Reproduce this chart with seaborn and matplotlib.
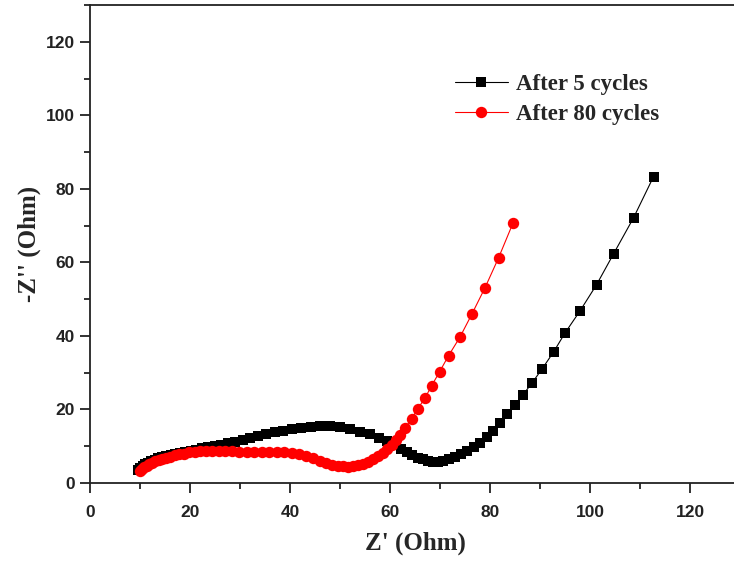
import numpy as np
import pandas as pd
import matplotlib
matplotlib.use('Agg')
import matplotlib.pyplot as plt
import seaborn as sns
from matplotlib.ticker import MultipleLocator

# Данные: импеданс после 5 циклов
z_re_5 = [9.5, 10.0, 10.5, 11.0, 11.6, 12.2, 12.9, 13.6, 14.4, 15.2, 16.1, 17.0,
          18.0, 19.0, 20.1, 21.2, 22.4, 23.6, 24.9, 26.2, 27.6, 29.0, 30.5, 32.0,
          33.6, 35.2, 36.9, 38.6, 40.4, 42.2, 44.1, 46.0, 48.0, 50.0, 52.0, 54.0,
          55.9, 57.7, 59.3, 60.8, 62.1, 63.3, 64.4, 65.5, 66.5, 67.5, 68.5, 69.5,
          70.6, 71.7, 72.9, 74.1, 75.4, 76.7, 78.0, 79.3, 80.6, 82.0, 83.4, 85.0,
          86.6, 88.4, 90.4, 92.7, 95.0, 98.0, 101.3, 104.7, 108.7, 112.7]
z_im_5 = [3.5, 4.2, 4.7, 5.1, 5.5, 5.9, 6.3, 6.7, 7.0, 7.3, 7.6, 7.9,
          8.2, 8.5, 8.8, 9.1, 9.4, 9.7, 10.0, 10.4, 10.8, 11.2, 11.7, 12.2,
          12.8, 13.3, 13.8, 14.2, 14.6, 15.0, 15.3, 15.4, 15.4, 15.2, 14.8, 14.0,
          13.2, 12.3, 11.3, 10.2, 9.2, 8.3, 7.5, 6.9, 6.4, 6.0, 5.8, 5.8,
          6.0, 6.5, 7.1, 7.8, 8.7, 9.7, 10.9, 12.4, 14.2, 16.3, 18.7, 21.1,
          24.0, 27.2, 31.0, 35.6, 40.8, 46.8, 53.9, 62.3, 72.1, 83.3]

# Данные: импеданс после 80 циклов
z_re_80 = [10.0, 10.4, 10.8, 11.3, 11.8, 12.4, 13.0, 13.7, 14.4, 15.2, 16.0, 16.9,
           17.8, 18.8, 19.8, 20.9, 22.0, 23.2, 24.4, 25.7, 27.0, 28.4, 29.8, 31.3,
           32.8, 34.3, 35.8, 37.3, 38.8, 40.3, 41.8, 43.2, 44.6, 45.9, 47.2, 48.4,
           49.5, 50.6, 51.6, 52.6, 53.6, 54.6, 55.6, 56.6, 57.6, 58.5, 59.4, 60.3,
           61.2, 62.0, 63.0, 64.3, 65.5, 67.0, 68.3, 69.9, 71.7, 74.0, 76.4, 79.0,
           81.7, 84.6]
z_im_80 = [3.3, 3.8, 4.3, 4.7, 5.1, 5.5, 5.9, 6.2, 6.6, 6.9, 7.2, 7.5,
           7.8, 8.0, 8.3, 8.5, 8.7, 8.8, 8.8, 8.8, 8.7, 8.6, 8.5, 8.4,
           8.4, 8.4, 8.5, 8.5, 8.4, 8.2, 7.8, 7.3, 6.7, 6.1, 5.5, 5.0,
           4.7, 4.5, 4.4, 4.5, 4.8, 5.2, 5.8, 6.5, 7.3, 8.2, 9.2, 10.3,
           11.6, 13.0, 15.0, 17.4, 20.1, 23.1, 26.4, 30.2, 34.6, 39.7, 46.0, 53.1,
           61.2, 70.7]

x_ticks = [0, 20, 40, 60, 80, 100, 120]
y_ticks = [0, 20, 40, 60, 80, 100, 120]

sns.set_theme(style='ticks')
serif = ['Liberation Serif', 'DejaVu Serif']
sans = ['Liberation Sans', 'DejaVu Sans']
plt.rcParams['font.family'] = sans

fig = plt.figure(figsize=(7.34, 5.63), dpi=100)
ax = fig.add_axes([90 / 734, 80 / 563, 650 / 734, 478 / 563])

sns.lineplot(x=z_re_5, y=z_im_5, sort=False, ax=ax, color='black', lw=0.8,
             marker='s', markersize=7.2, markeredgewidth=0, label='After 5 cycles')
sns.lineplot(x=z_re_80, y=z_im_80, sort=False, ax=ax, color='#ff0000', lw=0.8,
             marker='o', markersize=8.2, markeredgewidth=0, label='After 80 cycles')

ax.set_xlim(0, 130)
ax.set_ylim(0, 130)
ax.set_xticks(x_ticks)
ax.set_yticks(y_ticks)
ax.xaxis.set_minor_locator(MultipleLocator(10))
ax.yaxis.set_minor_locator(MultipleLocator(10))
ax.tick_params(which='major', direction='out', length=7, width=1.3,
               labelsize=12.5, pad=4, colors='#222222')
ax.tick_params(which='minor', direction='out', length=4, width=1.3, colors='#222222')
for lab in ax.get_xticklabels() + ax.get_yticklabels():
    lab.set_fontweight('bold')
    lab.set_color('#222222')
ax.tick_params(axis='x', which='major', pad=9)

for s in ax.spines.values():
    s.set_linewidth(1.3)
    s.set_color('#222222')

ax.set_xlabel("Z' (Ohm)", family=serif, fontsize=18, fontweight='bold', labelpad=8)
ax.set_ylabel("-Z'' (Ohm)", family=serif, fontsize=18, fontweight='bold', labelpad=3)

ax.legend(loc='upper left', bbox_to_anchor=(455 / 734, 1 - 74 / 563),
          bbox_transform=fig.transFigure, frameon=False,
          prop={'family': serif, 'weight': 'bold', 'size': 16.5},
          handlelength=2.3, handletextpad=0.35, labelspacing=0.4,
          borderpad=0, borderaxespad=0)

fig.savefig('out.png', dpi=100)
